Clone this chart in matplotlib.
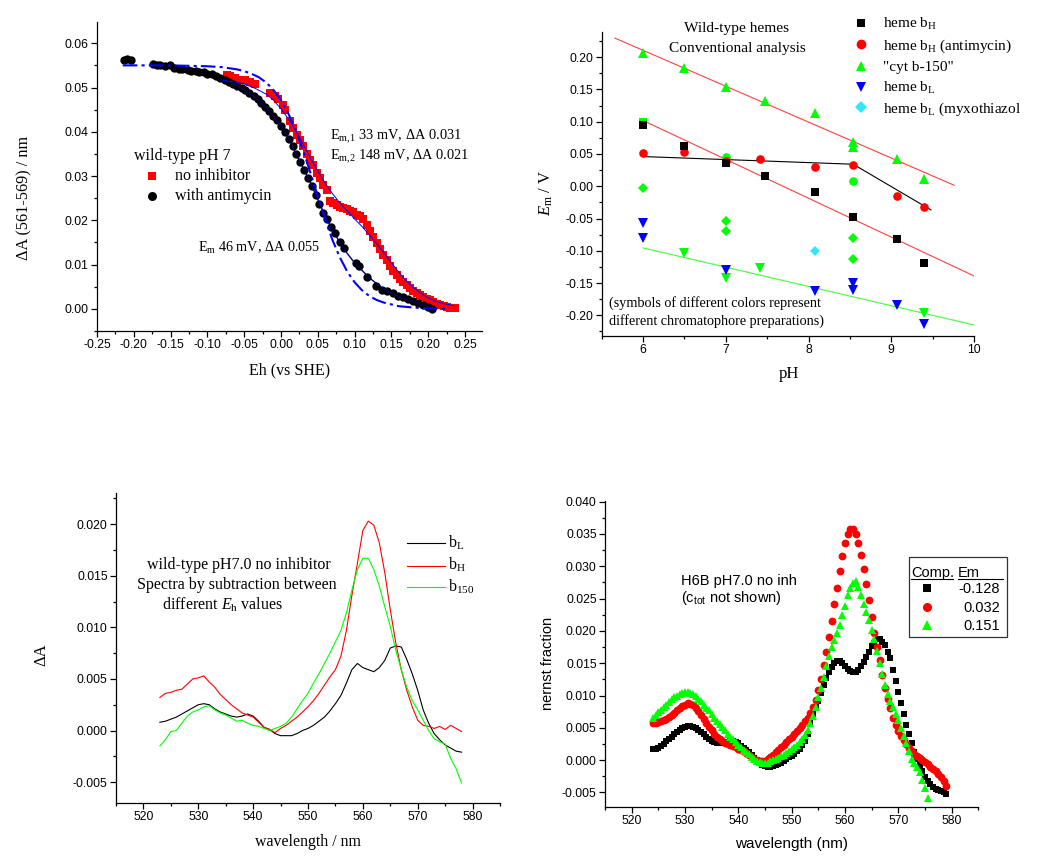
import matplotlib
matplotlib.use('Agg')
import matplotlib.pyplot as plt
import numpy as np
from matplotlib.lines import Line2D
from matplotlib.patches import Rectangle
from matplotlib.ticker import MultipleLocator, FormatStrFormatter

SERIF = 'Liberation Serif'
SANS = 'Liberation Sans'
plt.rcParams['font.family'] = SANS
plt.rcParams['mathtext.fontset'] = 'custom'
plt.rcParams['mathtext.rm'] = SERIF
plt.rcParams['mathtext.it'] = SERIF + ':italic'
plt.rcParams['mathtext.bf'] = SERIF + ':bold'

W, H = 1050, 859

# ---------------- panel A: redox titration ----------------
eh_noinh = [-0.0738, -0.0693, -0.0625, -0.0557, -0.0489, -0.0421, -0.0353, -0.0149, -0.0082, -0.0036,
            0.0032, 0.0054, 0.0122, 0.0168, 0.0213, 0.0258, 0.0303, 0.0349, 0.0394, 0.0439,
            0.0485, 0.0530, 0.0575, 0.0620, 0.0666, 0.0711, 0.0756, 0.0802, 0.0847, 0.0892,
            0.0938, 0.0983, 0.1028, 0.1073, 0.1119, 0.1164, 0.1210, 0.1255, 0.1300, 0.1346,
            0.1391, 0.1436, 0.1482, 0.1527, 0.1572, 0.1618, 0.1663, 0.1708, 0.1754, 0.1799,
            0.1844, 0.1890, 0.1935, 0.1980, 0.2026, 0.2071, 0.2116, 0.2162, 0.2207, 0.2252,
            0.2298, 0.2343, 0.2370]
da_noinh = [0.0529, 0.0525, 0.0522, 0.0518, 0.0516, 0.0512, 0.0509, 0.0488, 0.0480, 0.0473,
            0.0461, 0.0450, 0.0424, 0.0409, 0.0393, 0.0382, 0.0367, 0.0350, 0.0337, 0.0324,
            0.0307, 0.0295, 0.0280, 0.0268, 0.0243, 0.0239, 0.0235, 0.0231, 0.0228, 0.0226,
            0.0222, 0.0218, 0.0213, 0.0210, 0.0203, 0.0190, 0.0176, 0.0162, 0.0148, 0.0135,
            0.0122, 0.0110, 0.0097, 0.0086, 0.0076, 0.0067, 0.0060, 0.0053, 0.0047, 0.0041,
            0.0036, 0.0031, 0.0027, 0.0023, 0.0019, 0.0015, 0.0012, 0.0009, 0.0006, 0.0004,
            0.0003, 0.0002, 0.0002]

eh_anti = [-0.2133, -0.2088, -0.2038, -0.1744, -0.1690, -0.1640, -0.1576, -0.1504, -0.1450, -0.1390,
           -0.1340, -0.1270, -0.1220, -0.1160, -0.1110, -0.1050, -0.1000, -0.0940, -0.0890, -0.0830,
           -0.0765, -0.0710, -0.0648, -0.0598, -0.0534, -0.0485, -0.0430, -0.0370, -0.0317, -0.0267,
           -0.0213, -0.0159, -0.0104, -0.0050, 0.0005, 0.0054, 0.0104, 0.0159, 0.0208, 0.0258,
           0.0312, 0.0371, 0.0421, 0.0471, 0.0521, 0.0575, 0.0625, 0.0679, 0.0734, 0.0802,
           0.0861, 0.1019, 0.1064, 0.1164, 0.1286, 0.1368, 0.1445, 0.1517, 0.1594, 0.1662,
           0.1730, 0.1798, 0.1866, 0.1934, 0.2002, 0.2052]
da_anti = [0.0562, 0.0565, 0.0562, 0.0552, 0.0551, 0.0551, 0.0549, 0.0551, 0.0544, 0.0541,
           0.0541, 0.0540, 0.0537, 0.0537, 0.0534, 0.0534, 0.0530, 0.0530, 0.0527, 0.0522,
           0.0517, 0.0513, 0.0508, 0.0504, 0.0498, 0.0494, 0.0487, 0.0481, 0.0473, 0.0466,
           0.0456, 0.0448, 0.0436, 0.0426, 0.0412, 0.0399, 0.0384, 0.0367, 0.0350, 0.0332,
           0.0314, 0.0295, 0.0277, 0.0258, 0.0237, 0.0216, 0.0203, 0.0186, 0.0171, 0.0150,
           0.0137, 0.0103, 0.0096, 0.0073, 0.0052, 0.0043, 0.0041, 0.0035, 0.0029, 0.0026,
           0.0022, 0.0017, 0.0013, 0.0009, 0.0005, 0.0000]

# fitted curves
eh_fit1 = [-0.215, -0.15, -0.10, -0.08, -0.06, -0.05, -0.04, -0.03, -0.02, -0.01, 0.00, 0.01, 0.02,
           0.03, 0.04, 0.05, 0.06, 0.07, 0.08, 0.09, 0.10, 0.11, 0.12, 0.13, 0.14, 0.16, 0.18,
           0.20, 0.225]
da_fit1 = [0.0550, 0.0550, 0.0548, 0.0546, 0.0541, 0.0537, 0.0531, 0.0523, 0.0511, 0.0494, 0.0471,
           0.0441, 0.0403, 0.0358, 0.0307, 0.0254, 0.0202, 0.0155, 0.0116, 0.0084, 0.0060, 0.0042,
           0.0029, 0.0020, 0.0014, 0.0006, 0.0003, 0.0001, 0.0000]
eh_fit2 = [-0.08, -0.065, -0.05, -0.035, -0.02, -0.01, 0.00, 0.01, 0.02, 0.03, 0.04, 0.05, 0.06,
           0.07, 0.08, 0.09, 0.10, 0.11, 0.12, 0.13, 0.14, 0.15, 0.16, 0.17, 0.18, 0.19, 0.20,
           0.21, 0.22, 0.235]
da_fit2 = [0.0516, 0.0513, 0.0508, 0.0498, 0.0485, 0.0471, 0.0452, 0.0429, 0.0402, 0.0372, 0.0341,
           0.0311, 0.0284, 0.0260, 0.0239, 0.0221, 0.0203, 0.0186, 0.0167, 0.0147, 0.0126, 0.0104,
           0.0083, 0.0064, 0.0048, 0.0035, 0.0025, 0.0017, 0.0012, 0.0007]
eh_fit3 = [-0.08, -0.06, -0.04, -0.02, 0.00, 0.01, 0.02, 0.03, 0.04, 0.05, 0.06, 0.07, 0.08, 0.09,
           0.10, 0.12, 0.14, 0.16, 0.18, 0.20, 0.208]
da_fit3 = [0.0520, 0.0505, 0.0484, 0.0455, 0.0414, 0.0386, 0.0352, 0.0318, 0.0285, 0.0247, 0.0210,
           0.0178, 0.0150, 0.0125, 0.0104, 0.0070, 0.0044, 0.0027, 0.0016, 0.0006, 0.0002]

# ---------------- panel B: Em vs pH ----------------
ph_bh = [6.0, 6.5, 7.0, 7.47, 8.08, 8.54, 9.07, 9.40]
em_bh = [0.095, 0.0625, 0.0357, 0.0165, -0.0093, -0.0475, -0.0811, -0.1189]
ph_bh_anti = [6.0, 6.5, 7.0, 7.41, 8.08, 8.54, 9.07, 9.40]
em_bh_anti = [0.0512, 0.0527, 0.0398, 0.0429, 0.030, 0.033, -0.0155, -0.0326]
ph_b150 = [6.0, 6.5, 7.0, 7.47, 8.08, 8.54, 8.54, 9.07, 9.40]
em_b150 = [0.2072, 0.183, 0.1545, 0.1323, 0.1132, 0.0692, 0.0615, 0.0419, 0.0109]
ph_bl = [6.0, 6.0, 7.0, 8.08, 8.54, 8.54, 9.07, 9.40]
em_bl = [-0.0574, -0.0806, -0.1297, -0.1617, -0.1494, -0.1607, -0.184, -0.2134]
ph_bl_myx = [8.08]
em_bl_myx = [-0.1003]
# other chromatophore preparations (green symbols)
ph_g_sq = [6.0]
em_g_sq = [0.100]
ph_g_circ = [7.0, 8.54]
em_g_circ = [0.046, 0.0083]
ph_g_dia = [6.0, 7.0, 7.0, 8.54, 8.54]
em_g_dia = [-0.0031, -0.0532, -0.0693, -0.080, -0.1127]
ph_g_down = [6.5, 7.0, 7.41, 9.40]
em_g_down = [-0.1039, -0.1426, -0.1271, -0.1969]
# fitted lines
ph_line_b150 = [5.66, 9.76]
em_line_b150 = [0.2295, 0.0015]
ph_line_bh = [6.0, 10.0]
em_line_bh = [0.1018, -0.139]
ph_line_bl = [6.0, 10.0]
em_line_bl = [-0.0956, -0.215]
ph_line_anti = [6.0, 8.54, 9.48]
em_line_anti = [0.046, 0.0341, -0.0367]

# ---------------- panel C: difference spectra ----------------
wl_c = np.arange(523, 579)
spec_bl = [0.0008, 0.0009, 0.0011, 0.0013, 0.0016, 0.0019, 0.0022, 0.0025, 0.0026, 0.0025,
           0.0021, 0.0018, 0.0016, 0.0014, 0.0013, 0.0014, 0.0016, 0.0014, 0.0009, 0.0003,
           0.0001, -0.0003, -0.0005, -0.0005, -0.0005, -0.0003, 0.0000, 0.0002, 0.0005, 0.0009,
           0.0013, 0.0019, 0.0026, 0.0034, 0.0046, 0.0059, 0.0065, 0.0061, 0.0059, 0.0057,
           0.0061, 0.0068, 0.0080, 0.0082, 0.0081, 0.0069, 0.0055, 0.0039, 0.0020, 0.0007,
           -0.0003, -0.0009, -0.0014, -0.0017, -0.0020, -0.0021]
spec_bh = [0.0032, 0.0036, 0.0037, 0.0039, 0.0040, 0.0045, 0.0050, 0.0051, 0.0053, 0.0047,
           0.0042, 0.0035, 0.0030, 0.0025, 0.0021, 0.0017, 0.0015, 0.0013, 0.0008, 0.0003,
           0.0001, -0.0002, 0.0002, 0.0005, 0.0009, 0.0013, 0.0018, 0.0023, 0.0029, 0.0036,
           0.0044, 0.0052, 0.0059, 0.0072, 0.0097, 0.0131, 0.0162, 0.0194, 0.0203, 0.0199,
           0.0182, 0.0153, 0.0117, 0.0085, 0.0059, 0.0039, 0.0023, 0.0010, 0.0005, 0.0004,
           0.0002, 0.0004, 0.0001, 0.0005, 0.0002, -0.0001]
spec_b150 = [-0.0015, -0.0009, -0.0001, 0.0000, 0.0007, 0.0014, 0.0018, 0.0020, 0.0023, 0.0024,
             0.0020, 0.0017, 0.0015, 0.0012, 0.0009, 0.0010, 0.0007, 0.0005, 0.0004, 0.0002,
             0.0000, 0.0002, 0.0004, 0.0007, 0.0013, 0.0021, 0.0029, 0.0036, 0.0046, 0.0055,
             0.0065, 0.0075, 0.0086, 0.0097, 0.0114, 0.0136, 0.0156, 0.0167, 0.0167, 0.0156,
             0.0140, 0.0120, 0.0101, 0.0078, 0.0059, 0.0042, 0.0029, 0.0020, 0.0010, 0.0000,
             -0.0008, -0.0011, -0.0013, -0.0027, -0.0037, -0.0051]

# ---------------- panel D: nernst fraction spectra ----------------
wl_d = np.arange(524.0, 579.01, 0.5)
wl_d_green = np.arange(524.0, 575.51, 0.5)
nf_m128 = [0.0018, 0.0018, 0.0019, 0.0022, 0.0025, 0.0029, 0.0032, 0.0036, 0.0040, 0.0044,
           0.0047, 0.0050, 0.0052, 0.0053, 0.0053, 0.0052, 0.0050, 0.0047, 0.0043, 0.0040,
           0.0036, 0.0033, 0.0030, 0.0028, 0.0027, 0.0026, 0.0026, 0.0027, 0.0028, 0.0029,
           0.0029, 0.0028, 0.0026, 0.0022, 0.0019, 0.0015, 0.0012, 0.0008, 0.0004, 0.0000,
           -0.0004, -0.0007, -0.0009, -0.0010, -0.0010, -0.0009, -0.0008, -0.0006, -0.0004, -0.0001,
           0.0002, 0.0005, 0.0007, 0.0010, 0.0014, 0.0018, 0.0023, 0.0029, 0.0040, 0.0057,
           0.0072, 0.0083, 0.0092, 0.0104, 0.0116, 0.0127, 0.0137, 0.0144, 0.0150, 0.0153,
           0.0154, 0.0151, 0.0146, 0.0141, 0.0138, 0.0136, 0.0137, 0.0140, 0.0145, 0.0152,
           0.0160, 0.0168, 0.0176, 0.0182, 0.0187, 0.0188, 0.0183, 0.0178, 0.0168, 0.0158,
           0.0140, 0.0122, 0.0105, 0.0088, 0.0071, 0.0055, 0.0041, 0.0026, 0.0012, 0.0002,
           -0.0008, -0.0016, -0.0026, -0.0032, -0.0037, -0.0041, -0.0044, -0.0046, -0.0048, -0.0050,
           -0.0052]
nf_032 = [0.0058, 0.0058, 0.0059, 0.0060, 0.0062, 0.0064, 0.0067, 0.0070, 0.0073, 0.0077,
          0.0081, 0.0084, 0.0086, 0.0088, 0.0087, 0.0085, 0.0081, 0.0076, 0.0070, 0.0064,
          0.0058, 0.0052, 0.0046, 0.0041, 0.0036, 0.0032, 0.0029, 0.0027, 0.0025, 0.0024,
          0.0022, 0.0020, 0.0018, 0.0016, 0.0014, 0.0011, 0.0008, 0.0005, 0.0002, 0.0000,
          -0.0002, -0.0002, -0.0001, 0.0002, 0.0005, 0.0008, 0.0012, 0.0016, 0.0020, 0.0024,
          0.0028, 0.0032, 0.0036, 0.0040, 0.0045, 0.0050, 0.0055, 0.0060, 0.0066, 0.0073,
          0.0082, 0.0093, 0.0108, 0.0126, 0.0147, 0.0168, 0.0190, 0.0215, 0.0241, 0.0266,
          0.0292, 0.0316, 0.0336, 0.0350, 0.0357, 0.0357, 0.0350, 0.0336, 0.0318, 0.0296,
          0.0272, 0.0248, 0.0222, 0.0197, 0.0175, 0.0155, 0.0132, 0.0112, 0.0095, 0.0080,
          0.0066, 0.0055, 0.0045, 0.0038, 0.0031, 0.0025, 0.0019, 0.0014, 0.0010, 0.0006,
          0.0003, 0.0000, -0.0003, -0.0006, -0.0010, -0.0013, -0.0017, -0.0021, -0.0026, -0.0032,
          -0.0040]
nf_151 = [0.0065, 0.0070, 0.0074, 0.0078, 0.0082, 0.0086, 0.0090, 0.0094, 0.0097, 0.0100,
          0.0102, 0.0104, 0.0105, 0.0105, 0.0104, 0.0102, 0.0099, 0.0095, 0.0091, 0.0086,
          0.0081, 0.0077, 0.0072, 0.0066, 0.0061, 0.0056, 0.0051, 0.0046, 0.0041, 0.0036,
          0.0032, 0.0028, 0.0024, 0.0020, 0.0016, 0.0012, 0.0009, 0.0005, 0.0002, -0.0001,
          -0.0003, -0.0005, -0.0005, -0.0004, -0.0002, 0.0000, 0.0002, 0.0004, 0.0006, 0.0008,
          0.0011, 0.0014, 0.0017, 0.0020, 0.0024, 0.0028, 0.0033, 0.0039, 0.0047, 0.0057,
          0.0069, 0.0082, 0.0097, 0.0112, 0.0128, 0.0145, 0.0161, 0.0175, 0.0186, 0.0197,
          0.0209, 0.0224, 0.0239, 0.0255, 0.0266, 0.0274, 0.0277, 0.0268, 0.0256, 0.0242,
          0.0230, 0.0217, 0.0202, 0.0188, 0.0169, 0.0150, 0.0134, 0.0117, 0.0102, 0.0091,
          0.0082, 0.0072, 0.0062, 0.0050, 0.0037, 0.0026, 0.0014, 0.0002, -0.0005, -0.0010,
          -0.0018, -0.0030, -0.0043, -0.0058]

RED = '#ff0000'
GREEN = '#00ff00'
BLUE = '#0000ff'
CYAN = '#33e6ff'


def F(px, py):
    return (px / W, 1 - py / H)


def axes_px(left, top, right, bottom):
    return fig.add_axes([left / W, 1 - bottom / H, (right - left) / W, (bottom - top) / H])


def style(ax, xmaj, xmin, ymaj, ymin, xfmt, yfmt):
    for s in ['top', 'right']:
        ax.spines[s].set_visible(False)
    for s in ['left', 'bottom']:
        ax.spines[s].set_linewidth(0.9)
    ax.xaxis.set_major_locator(MultipleLocator(xmaj))
    ax.xaxis.set_minor_locator(MultipleLocator(xmin))
    ax.yaxis.set_major_locator(MultipleLocator(ymaj))
    ax.yaxis.set_minor_locator(MultipleLocator(ymin))
    ax.xaxis.set_major_formatter(FormatStrFormatter(xfmt))
    ax.yaxis.set_major_formatter(FormatStrFormatter(yfmt))
    ax.tick_params(which='major', direction='out', length=4, width=0.9, labelsize=8.8, pad=2)
    ax.tick_params(which='minor', direction='out', length=2.2, width=0.9)
    for lab in ax.get_xticklabels() + ax.get_yticklabels():
        lab.set_fontfamily(SANS)


def ftext(px, py, s, family=SERIF, size=11.5, ha='left', va='baseline', **kw):
    x, y = F(px, py)
    fig.text(x, y, s, family=family, fontsize=size, ha=ha, va=va, **kw)


def fmarker(px, py, **kw):
    x, y = F(px, py)
    fig.add_artist(Line2D([x], [y], transform=fig.transFigure, linestyle='none', **kw))


def fline(px0, px1, py, **kw):
    x0, y = F(px0, py)
    x1, _ = F(px1, py)
    fig.add_artist(Line2D([x0, x1], [y, y], transform=fig.transFigure, **kw))


fig = plt.figure(figsize=(10.5, 8.59), dpi=100)
fig.patch.set_facecolor('white')

# ======== panel A ========
axA = axes_px(97, 22, 482, 331)
axA.plot(eh_noinh, da_noinh, 's', color=RED, ms=5.2, mew=0)
axA.plot(eh_anti, da_anti, 'o', color='black', ms=6, mew=0)
axA.plot(eh_fit3, da_fit3, '-', color='#000060', lw=1.0)
axA.plot(eh_fit2, da_fit2, '-', color=BLUE, lw=0.7)
axA.plot(eh_fit1, da_fit1, color=BLUE, lw=1.5, linestyle=(0, (7, 2, 1.5, 2)))
axA.set_xlim(-0.25, 0.273)
axA.set_ylim(-0.005, 0.0648)
style(axA, 0.05, 0.025, 0.01, 0.005, '%.2f', '%.2f')

ftext(134, 160, 'wild-type pH 7')
fmarker(152, 176, marker='s', color=RED, ms=6, mew=0)
fmarker(152, 196, marker='o', color='black', ms=6.5, mew=0)
ftext(175, 180, 'no inhibitor')
ftext(175, 200, 'with antimycin')
ftext(330, 140, r'E$_\mathregular{m,\!1}$ 33 mV, ΔA 0.031', size=10.4)
ftext(330, 160, r'E$_\mathregular{m,\!2}$ 148 mV, ΔA 0.021', size=10.4)
ftext(198, 252, r'E$_\mathregular{m}$ 46 mV, ΔA 0.055', size=10.2)
ftext(290, 370, 'Eh (vs SHE)', size=11.5, ha='center', va='center')
ftext(24, 198, 'ΔA (561-569) / nm', size=11.7, ha='center', va='center', rotation=90)

# ======== panel B ========
axB = axes_px(601.7, 32, 974, 335.7)
axB.plot(ph_line_b150, em_line_b150, '-', color='#ff4040', lw=0.8)
axB.plot(ph_line_bh, em_line_bh, '-', color='#ff4040', lw=0.8)
axB.plot(ph_line_bl, em_line_bl, '-', color='#40ff40', lw=0.8)
axB.plot(ph_line_anti, em_line_anti, '-', color='black', lw=0.8)
axB.plot(ph_g_sq, em_g_sq, 's', color=GREEN, ms=5.5, mew=0)
axB.plot(ph_g_circ, em_g_circ, 'o', color=GREEN, ms=6.2, mew=0)
axB.plot(ph_g_dia, em_g_dia, 'D', color=GREEN, ms=5, mew=0)
axB.plot(ph_g_down, em_g_down, 'v', color=GREEN, ms=6.8, mew=0)
axB.plot(ph_b150, em_b150, '^', color=GREEN, ms=6.8, mew=0)
axB.plot(ph_bl, em_bl, 'v', color=BLUE, ms=6.8, mew=0)
axB.plot(ph_bl_myx, em_bl_myx, 'D', color=CYAN, ms=5.5, mew=0)
axB.plot(ph_bh_anti, em_bh_anti, 'o', color=RED, ms=6.2, mew=0)
axB.plot(ph_bh, em_bh, 's', color='black', ms=5.5, mew=0)
axB.set_xlim(5.5, 10.0)
axB.set_ylim(-0.2316, 0.239)
style(axB, 1, 0.5, 0.05, 0.025, '%d', '%.2f')

ftext(737, 32.3, 'Wild-type hemes', size=11.1, ha='center')
ftext(737, 52.3, 'Conventional analysis', size=11.1, ha='center')
leg_rows = [(23, 28, 's', 'black', 6, r'heme b$_\mathregular{H}$'),
            (44, 50, 'o', RED, 7, r'heme b$_\mathregular{H}$ (antimycin)'),
            (66, 71, '^', GREEN, 7.5, '"cyt b-150"'),
            (87, 92, 'v', BLUE, 7.5, r'heme b$_\mathregular{L}$'),
            (107, 113, 'D', CYAN, 6, r'heme b$_\mathregular{L}$ (myxothiazol')]
for my, ty, mk, col, ms, lab in leg_rows:
    fmarker(861, my, marker=mk, color=col, ms=ms, mew=0)
    ftext(883, ty, lab, size=11)
ftext(609, 307, '(symbols of different colors represent', size=10.2)
ftext(609, 325, 'different chromatophore preparations)', size=10.2)
ftext(789, 374, 'pH', size=12, ha='center', va='center')
ftext(546.7, 193, r'$E_\mathregular{m}$ / V', size=12, ha='center', va='center', rotation=90)

# ======== panel C ========
axC = axes_px(116, 493.3, 500, 802.7)
axC.plot(wl_c, spec_bl, '-', color='black', lw=0.8)
axC.plot(wl_c, spec_bh, '-', color=RED, lw=0.8)
axC.plot(wl_c, spec_b150, '-', color=GREEN, lw=0.8)
axC.set_xlim(515, 585)
axC.set_ylim(-0.007, 0.023)
style(axC, 10, 5, 0.005, 0.0025, '%d', '%.3f')

ftext(146.7, 569.3, 'wild-type pH7.0 no inhibitor')
ftext(136.7, 589.3, 'Spectra by subtraction between')
ftext(161.7, 609.3, r'different $E_\mathregular{h}$ values')
for ly, ty, col, lab in [(543, 548, 'black', r'b$_\mathregular{L}$'),
                         (565.7, 570, RED, r'b$_\mathregular{H}$'),
                         (586.7, 591.7, GREEN, r'b$_\mathregular{150}$')]:
    fline(407, 445, ly, color=col, lw=0.8)
    ftext(448, ty, lab)
ftext(308, 842.5, 'wavelength / nm', size=11.4, ha='center', va='center')
ftext(41.7, 655, 'ΔA', size=12, ha='center', va='center', rotation=90)

# ======== panel D ========
axD = axes_px(605, 501, 978.3, 806.7)
axD.plot(wl_d, nf_m128, 's', color='black', ms=5, mew=0)
axD.plot(wl_d, nf_032, 'o', color=RED, ms=5.6, mew=0)
axD.plot(wl_d_green, nf_151, '^', color=GREEN, ms=6, mew=0)
axD.set_xlim(515, 585)
axD.set_ylim(-0.0072, 0.0401)
style(axD, 10, 5, 0.005, 0.0025, '%d', '%.3f')

ftext(681, 585, 'H6B pH7.0 no inh', family=SANS, size=10.5)
ftext(681, 601.7, r'(c$_\mathregular{tot}$ not shown)', family=SANS, size=10.5)
x0, y0 = F(909, 637)
x1, y1 = F(1007, 557)
fig.add_artist(Rectangle((x0, y0), x1 - x0, y1 - y0, transform=fig.transFigure,
                         fill=False, edgecolor='#333333', lw=0.9))
ftext(911, 576.7, 'Comp.', family=SANS, size=10.5)
ftext(958, 576.7, 'Em', family=SANS, size=10.5)
fline(911, 953, 579, color='black', lw=0.8)
fline(958, 1003, 579, color='black', lw=0.8)
for my, ty, mk, col, ms, lab in [(588.3, 593.3, 's', 'black', 5.5, '-0.128'),
                                 (606.7, 611.7, 'o', RED, 6.5, '0.032'),
                                 (625, 630, '^', GREEN, 7, '0.151')]:
    fmarker(927, my, marker=mk, color=col, ms=ms, mew=0)
    ftext(1000, ty, lab, family=SANS, size=10.5, ha='right')
ftext(791.7, 844, 'wavelength (nm)', family=SANS, size=11, ha='center', va='center')
ftext(548.3, 663, 'nernst fraction', family=SANS, size=10.5, ha='center', va='center', rotation=90)

fig.savefig('out.png', dpi=100, facecolor='white')
plt.close(fig)
